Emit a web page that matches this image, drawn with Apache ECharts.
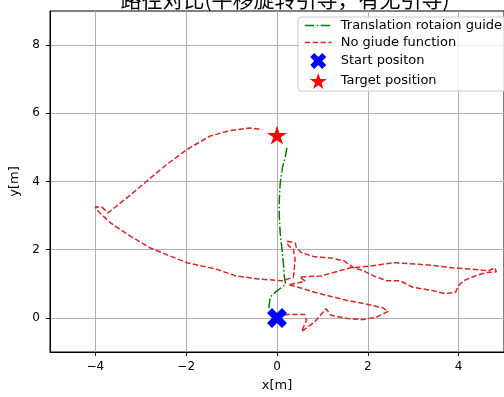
<!DOCTYPE html>
<html><head><meta charset="utf-8">
<script src="https://cdn.jsdelivr.net/npm/echarts@6/dist/echarts.min.js"></script>
<style>html,body{margin:0;padding:0;background:#fff}#c{width:504px;height:397px}</style>
</head><body><div id="c"></div>
<script>
var titleText = '路径对比(平移旋转引导，有无引导)';
var xTicks = [-4, -2, 0, 2, 4];
var yTicks = [0, 2, 4, 6, 8];
var guideX = [-0.18,-0.15,-0.04,0.11,0.19,0.16,0.14,0.11,0.07,0.05,0.05,0.07,0.12,0.18,0.22];
var guideY = [0.29,0.61,0.75,0.90,0.99,1.23,1.62,2.00,2.49,2.97,3.45,3.93,4.41,4.70,5.01];
var noGuideX = [0,0.22,0.61,0.65,0.54,0.83,1.08,1.19,1.55,1.91,2.20,2.45,2.34,1.91,1.55,1.19,0.83,0.47,0.25,0.45,0.62,0.50,0.97,1.62,2.06,2.56,3.14,3.43,3.86,4.29,4.65,4.80,4.83,4.62,4.36,4.11,4.00,3.93,3.71,3.43,2.99,2.71,2.42,2.13,1.91,1.69,1.48,1.19,0.83,0.54,0.43,0.40,0.22,0.25,0.36,0.40,0.38,0.36,0.11,-0.40,-0.90,-1.34,-1.99,-2.79,-3.28,-3.65,-3.97,-4.00,-3.85,-3.72,-3.28,-2.85,-2.42,-1.98,-1.48,-1.05,-0.61,-0.32];
var noGuideY = [0,0.10,0.10,-0.07,-0.40,-0.12,0.27,0.08,-0.02,-0.05,0.03,0.19,0.29,0.42,0.51,0.63,0.75,0.90,0.97,1.02,1.08,1.20,1.23,1.47,1.52,1.62,1.57,1.54,1.47,1.43,1.38,1.47,1.35,1.33,1.23,1.09,0.95,0.75,0.71,0.80,0.90,1.09,1.09,1.23,1.38,1.47,1.67,1.76,1.79,1.91,2.05,2.20,2.25,2.12,2.01,1.72,1.43,1.19,1.09,1.14,1.23,1.43,1.62,2.05,2.44,2.77,3.16,3.26,3.24,3.08,3.55,4.03,4.51,4.94,5.33,5.49,5.57,5.52];
var startPos = [0, 0];
var targetPos = [0, 5.36];
var names = ['Translation rotaion guide', 'No giude function', 'Start positon', 'Target position'];

function zip(a, b) { return a.map(function (v, i) { return [v, b[i]]; }); }
var xPath = 'path://M2.5,0 L5,2.5 L7.5,0 L10,2.5 L7.5,5 L10,7.5 L7.5,10 L5,7.5 L2.5,10 L0,7.5 L2.5,5 L0,2.5 Z';
var starPath = 'path://M0,-1 L0.2245,-0.309 L0.951,-0.309 L0.363,0.118 L0.588,0.809 L0,0.382 L-0.588,0.809 L-0.363,0.118 L-0.951,-0.309 L-0.2245,-0.309 Z';
var fmt = function (v) { return String(v).replace('-', '\u2212'); };
var font = 'DejaVu Sans';

var chart = echarts.init(document.getElementById('c'), null, {renderer: 'canvas'});
chart.setOption({
  animation: false,
  backgroundColor: '#fff',
  title: {
    text: titleText, left: 280, top: -16, textAlign: 'center',
    textStyle: {fontFamily: 'Noto Sans CJK SC', fontSize: 21, fontWeight: 'normal', color: '#000'}
  },
  grid: {left: 50, right: -8, top: 11, bottom: 40, show: true, borderColor: '#000', borderWidth: 1, backgroundColor: 'transparent'},
  xAxis: {
    type: 'value', min: -5, max: 5,
    name: 'x[m]', nameLocation: 'middle', nameGap: 27,
    nameTextStyle: {fontFamily: font, fontSize: 13, color: '#000'},
    axisLine: {show: true, onZero: false, lineStyle: {color: '#000', width: 1}},
    axisTick: {show: true, length: 4, customValues: xTicks, lineStyle: {color: '#000'}},
    axisLabel: {customValues: xTicks, margin: 9, fontFamily: font, fontSize: 12, color: '#000', formatter: fmt},
    splitLine: {show: true, lineStyle: {color: '#b0b0b0', width: 1}}
  },
  yAxis: {
    type: 'value', min: -1, max: 9,
    name: 'y[m]', nameLocation: 'middle', nameGap: 24, nameRotate: 90,
    nameTextStyle: {fontFamily: font, fontSize: 13, color: '#000'},
    axisLine: {show: true, onZero: false, lineStyle: {color: '#000', width: 1}},
    axisTick: {show: true, length: 4, customValues: yTicks, lineStyle: {color: '#000'}},
    axisLabel: {customValues: yTicks, margin: 10, fontFamily: font, fontSize: 12, color: '#000', formatter: fmt},
    splitLine: {show: true, lineStyle: {color: '#b0b0b0', width: 1}}
  },
  legend: {
    orient: 'vertical', left: 298, top: 17,
    padding: [2, 6, 2, 6], itemGap: 4, itemWidth: 27, itemHeight: 16,
    backgroundColor: 'rgba(255,255,255,0.8)', borderColor: '#cccccc', borderWidth: 1, borderRadius: 3,
    textStyle: {fontFamily: font, fontSize: 13, color: '#000', padding: [0, 0, 0, 4]},
    data: [
      {name: names[0], itemStyle: {color: 'rgba(0,0,0,0)', borderWidth: 0}, lineStyle: {color: '#008000', width: 1.5, type: [9.6, 2.4, 1.5, 2.4]}},
      {name: names[1], itemStyle: {color: 'rgba(0,0,0,0)', borderWidth: 0}, lineStyle: {color: '#d62728', width: 1.5, type: [5.5, 2.4]}},
      {name: names[2], icon: xPath},
      {name: names[3], icon: starPath}
    ]
  },
  series: [
    {
      name: names[0], type: 'line', symbol: 'none', data: zip(guideX, guideY), z: 3,
      lineStyle: {color: '#008000', width: 1.5, type: [9.6, 2.4, 1.5, 2.4]},
      itemStyle: {color: '#008000'}
    },
    {
      name: names[1], type: 'line', symbol: 'none', data: zip(noGuideX, noGuideY), z: 2,
      lineStyle: {color: '#d62728', width: 1.5, type: [5.5, 2.4]},
      itemStyle: {color: '#d62728'}
    },
    {
      name: names[2], type: 'scatter', symbol: xPath, symbolSize: 20, data: [startPos], z: 5,
      itemStyle: {color: '#0000ff', opacity: 1}
    },
    {
      name: names[3], type: 'scatter', symbol: starPath, symbolSize: [20, 19], data: [targetPos], z: 5,
      itemStyle: {color: '#ff0000', opacity: 1}
    }
  ]
});
</script></body></html>
